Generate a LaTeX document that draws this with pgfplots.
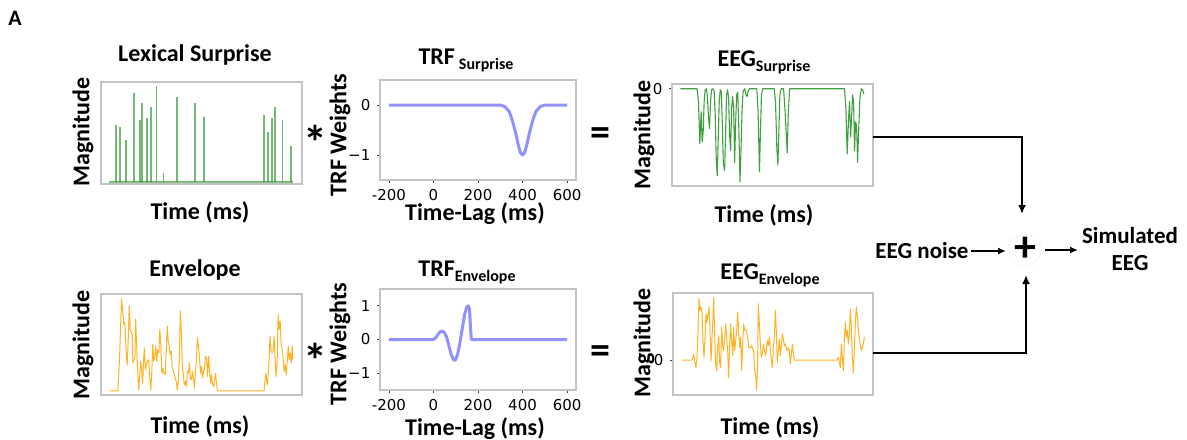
\documentclass[border=0pt]{standalone}
\usepackage{pgfplots}
\pgfplotsset{compat=1.18}
\usepackage{fontspec}
\setmainfont{Carlito}
\newfontfamily\dejavu{DejaVu Sans}
\usetikzlibrary{arrows.meta}

\definecolor{mgreen}{RGB}{0,128,0}
\definecolor{morange}{RGB}{255,165,0}
\definecolor{mblue}{RGB}{145,145,255}
\definecolor{frame}{RGB}{195,195,195}

\newcommand{\lab}{\fontsize{12}{14}\selectfont\bfseries}
\newcommand{\sub}{\fontsize{8}{9}\selectfont\bfseries}

\pgfplotsset{
  panel/.style={
    scale only axis, anchor=south west,
    axis line style={draw=frame, line width=0.6pt},
    tick style={draw=black!75, line width=0.4pt},
    major tick length=1.6pt, tick align=outside,
    xtick pos=bottom, ytick pos=left,
    ticklabel style={font=\dejavu\fontsize{7.5}{8}\selectfont},
    /pgf/number format/assume math mode=true,
    xticklabel style={yshift=0.3pt},
    yticklabel style={xshift=0.3pt},
  },
  blank/.style={panel, xtick=\empty, ytick=\empty},
}

\begin{document}
\begin{tikzpicture}[x=0.5pt,y=-0.5pt]
\useasboundingbox (0,0) rectangle (1187,439);

% ---------- Lexical surprise ----------
\begin{axis}[blank, at={(50.5pt,-92pt)}, width=100.5pt, height=51pt,
  xmin=5, xmax=603, ymin=-6, ymax=291]
\addplot[mgreen, draw opacity=0.5, line width=1pt] coordinates {(30,0)(575,0)};
\addplot[ycomb, mgreen, draw opacity=0.55, line width=0.9pt] coordinates {
  (50,166)(61,160)(80,123)(103,259)(120,179)(126,230)(143,186)(154,217)
  (170,278)(191,26)(230,248)(285,229)(312,189)(490,195)(501,146)(514,186)
  (522,218)(545,181)(571,106)};
\end{axis}

% ---------- TRF surprise ----------
\begin{axis}[panel, at={(190pt,-90pt)}, width=98pt, height=50pt,
  xmin=-240, xmax=640, ymin=-1.5, ymax=0.5,
  xtick={-200,0,200,400,600}, xticklabels={-200,0,200,400,600},
  ytick={-1,0}, yticklabels={−1,0}]
\addplot[mblue, line width=1.5pt, line join=round] coordinates {
  (-200,0)(300,0)(320,-0.03)(340,-0.13)(350,-0.25)(360,-0.40)(370,-0.58)
  (380,-0.78)(390,-0.95)(400,-1.0)(410,-0.95)(420,-0.78)(430,-0.58)
  (440,-0.40)(450,-0.25)(460,-0.13)(480,-0.03)(500,0)(600,0)};
\end{axis}

% ---------- EEG surprise ----------
\begin{axis}[panel, at={(336pt,-93pt)}, width=100.5pt, height=51pt,
  xmin=5, xmax=605, ymin=-288, ymax=14, xtick=\empty,
  ytick={0}, yticklabels={0}]
\addplot[mgreen, draw opacity=0.75, line width=0.55pt, line join=round] coordinates {
  (30,0)(80,0)(84,-38)(88,-163)(92,-68)(95,-158)(98,-128)(101,-38)(104,-3)
  (108,0)(111,-28)(114,-88)(117,-118)(120,-38)(123,-3)(127,0)(131,-8)
  (134,-78)(137,-208)(140,-258)(143,-148)(146,-38)(149,-3)(152,-8)(155,-98)
  (158,-218)(162,-243)(165,-128)(168,-18)(171,-3)(174,-28)(177,-138)
  (180,-183)(183,-58)(186,-23)(189,-58)(192,-218)(195,-98)(198,-18)
  (201,-10)(204,-98)(208,-276)(211,-178)(214,-68)(217,-8)(222,0)(226,-18)
  (229,-23)(232,-8)(236,0)(258,0)(262,-68)(266,-246)(269,-128)(272,-18)
  (276,0)(310,0)(314,-38)(318,-178)(321,-226)(324,-128)(327,-18)(331,0)
  (338,0)(342,-58)(349,-190)(352,-78)(356,0)(520,0)(524,-58)(528,-193)
  (532,-88)(535,-38)(538,-143)(541,-88)(544,-18)(547,-38)(550,-183)
  (553,-98)(556,-108)(559,-218)(562,-128)(566,-28)(570,0)(574,-3)(578,-16)};
\end{axis}

% ---------- Envelope ----------
\begin{axis}[blank, at={(50.5pt,-197.5pt)}, width=100.5pt, height=50.5pt,
  xmin=5, xmax=603, ymin=-12, ymax=288]
\addplot[morange, draw opacity=0.85, line width=0.5pt, line join=round] coordinates {
  (30,0)(55,0)(60,93)(66,273)(70,233)(73,198)(76,203)(80,113)(83,78)(86,153)
  (89,253)(92,183)(95,173)(98,168)(100,83)(103,93)(106,98)(108,213)(111,133)
  (114,63)(117,3)(120,43)(123,88)(126,63)(129,23)(132,98)(134,128)(137,63)
  (140,78)(143,88)(147,93)(150,43)(153,3)(156,53)(159,138)(162,88)(165,103)
  (168,133)(171,88)(174,123)(177,113)(180,183)(183,138)(186,53)(189,68)
  (192,53)(196,48)(199,113)(202,193)(205,148)(208,133)(211,108)(214,118)
  (217,68)(220,63)(223,48)(226,38)(229,28)(232,3)(235,33)(238,93)(241,238)
  (244,173)(247,68)(250,48)(253,18)(256,28)(259,13)(262,58)(265,53)(268,83)
  (271,38)(274,33)(277,58)(280,38)(283,8)(286,53)(289,93)(292,158)(295,133)
  (298,98)(301,53)(304,73)(307,38)(310,58)(313,68)(316,103)(319,98)(322,43)
  (325,103)(328,63)(331,23)(334,48)(337,18)(340,13)(343,33)(346,53)(349,18)
  (352,0)(490,0)(493,33)(496,53)(499,18)(502,38)(505,93)(508,163)(511,118)
  (514,113)(517,118)(520,163)(523,93)(526,43)(529,83)(532,228)(535,183)
  (538,208)(541,138)(544,123)(547,93)(550,58)(553,78)(556,48)(559,88)
  (562,133)(565,93)(568,113)(571,83)(574,133)(575,93)};
\end{axis}

% ---------- TRF envelope ----------
\begin{axis}[panel, at={(190pt,-195pt)}, width=98pt, height=50.5pt,
  xmin=-240, xmax=640, ymin=-1.5, ymax=1.5,
  xtick={-200,0,200,400,600}, xticklabels={-200,0,200,400,600},
  ytick={-1,0,1}, yticklabels={−1,0,1}]
\addplot[mblue, line width=1.5pt, line join=round] coordinates {
  (-200,0)(0,0)(10,0.05)(20,0.15)(30,0.23)(40,0.25)(50,0.2)(60,0.05)
  (70,-0.2)(80,-0.45)(90,-0.6)(95,-0.62)(100,-0.6)(110,-0.4)(120,-0.05)
  (130,0.35)(140,0.75)(150,0.97)(156,1.0)(162,0.9)(166,0.4)(170,0)(600,0)};
\end{axis}

% ---------- EEG envelope ----------
\begin{axis}[panel, at={(336.5pt,-197.5pt)}, width=100pt, height=51pt,
  xmin=8, xmax=608, ymin=-104, ymax=200, xtick=\empty,
  ytick={0}, yticklabels={0}]
\addplot[morange, draw opacity=0.85, line width=0.5pt, line join=round] coordinates {
  (35,0)(65,0)(70,18)(73,-2)(77,-22)(80,8)(83,88)(86,183)(89,148)(92,158)
  (95,143)(98,58)(101,8)(104,68)(107,138)(110,113)(113,138)(116,158)(119,88)
  (122,-2)(125,68)(128,128)(130,186)(133,78)(136,-12)(139,-32)(142,38)
  (145,73)(148,-7)(151,-22)(154,98)(157,43)(160,28)(163,58)(166,108)(169,68)
  (172,28)(175,-52)(178,38)(181,108)(184,58)(187,13)(190,98)(193,28)(196,58)
  (199,88)(202,143)(205,88)(208,38)(211,68)(214,-32)(217,48)(220,108)
  (223,88)(226,90)(229,83)(232,73)(235,38)(238,36)(241,38)(244,43)(247,33)
  (250,28)(253,-32)(256,-47)(259,-90)(262,8)(264,168)(267,108)(270,48)
  (273,8)(276,18)(279,48)(282,33)(285,13)(288,28)(291,58)(294,43)(297,68)
  (300,33)(303,-2)(306,-22)(309,38)(312,68)(315,148)(318,88)(321,-7)(324,28)
  (327,63)(330,13)(333,43)(336,78)(339,63)(342,43)(345,48)(348,33)(351,28)
  (354,38)(357,28)(360,-12)(363,18)(366,48)(369,23)(372,0)(500,0)(504,8)
  (507,-7)(510,-22)(513,48)(516,8)(519,-32)(522,58)(525,113)(528,68)(531,88)
  (534,48)(537,78)(540,153)(543,98)(546,8)(549,-37)(552,38)(555,108)
  (558,158)(561,133)(564,88)(567,68)(570,43)(573,28)(576,38)(579,48)(582,68)};
\end{axis}

% ---------- texts ----------
\node[font=\fontsize{11}{13}\selectfont\bfseries] at (15,18) {A};

\node[font=\lab] at (195,55) {Lexical Surprise};
\node[font=\lab] at (195,270) {Envelope};
\node[font=\lab] at (466,60) {TRF\,\raisebox{-2.5pt}{\sub Surprise}};
\node[font=\lab] at (467,272) {TRF\raisebox{-2.5pt}{\sub Envelope}};
\node[font=\lab] at (764,62) {EEG\raisebox{-2.5pt}{\sub Surprise}};
\node[font=\lab] at (770,275) {EEG\raisebox{-2.5pt}{\sub Envelope}};

\node[font=\lab] at (200,212) {Time (ms)};
\node[font=\lab] at (200,426) {Time (ms)};
\node[font=\lab] at (764,215) {Time (ms)};
\node[font=\lab] at (770,427) {Time (ms)};
\node[font=\lab] at (475,214) {Time-Lag (ms)};
\node[font=\lab] at (475,429) {Time-Lag (ms)};

\node[font=\lab, rotate=90] at (83,132) {Magnitude};
\node[font=\lab, rotate=90] at (83,345) {Magnitude};
\node[font=\lab, rotate=90] at (644,135) {Magnitude};
\node[font=\lab, rotate=90] at (644,343) {Magnitude};
\node[font=\lab, rotate=90] at (340,135) {TRF Weights};
\node[font=\lab, rotate=90] at (340,344) {TRF Weights};

\node[font=\fontsize{24}{24}\selectfont\bfseries] at (315,142) {*};
\node[font=\fontsize{24}{24}\selectfont\bfseries] at (315,360) {*};
\node[font=\fontsize{20}{20}\selectfont\bfseries] at (600,137) {=};
\node[font=\fontsize{20}{20}\selectfont\bfseries] at (600,355) {=};

% ---------- summation ----------
\draw[line width=1.2pt, -{Latex[length=4.5pt,width=4pt]}]
  (873,137) -- (1022,137) -- (1022,214);
\draw[line width=1.2pt, -{Latex[length=4.5pt,width=4pt]}]
  (873,353) -- (1026,353) -- (1026,275);
\draw[gray!45, densely dotted, line width=0.3pt] (1025,250) circle[radius=8pt];
\node[font=\fontsize{22}{22}\selectfont\bfseries] at (1025,249) {+};
\node[font=\fontsize{11.5}{13}\selectfont\bfseries] at (922,251) {EEG noise};
\draw[line width=0.9pt, -{Latex[length=4pt,width=3.5pt]}] (971,251) -- (1006,251);
\draw[line width=0.9pt, -{Latex[length=4pt,width=3.5pt]}] (1045,250) -- (1078,250);
\node[font=\fontsize{11.5}{13.5}\selectfont\bfseries, align=center] at (1130,249)
  {Simulated\\EEG};
\end{tikzpicture}
\end{document}
